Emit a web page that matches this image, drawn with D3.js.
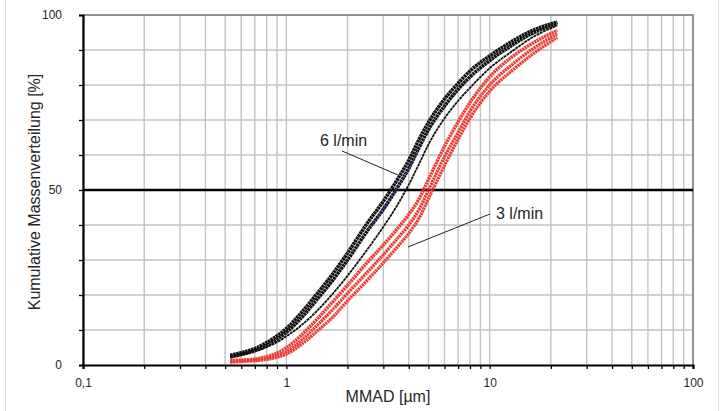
<!DOCTYPE html>
<html lang="de">

<head>
    <meta charset="utf-8">
    <title>Kumulative Massenverteilung</title>
    <script type="text/javascript" src="https://cdn.jsdelivr.net/npm/d3@7"></script>
    <style>
        body { margin: 0; background: #fff; }
        text { font-family: "Liberation Sans", Arial, sans-serif; fill: #262626; }
    </style>
</head>

<body>
    <div id="chart"></div>

    <script>
        // particle sizes (µm) shared by all curves
        const sizes = [0.53, 0.6, 0.7, 0.8, 0.9, 1.0, 1.2, 1.4, 1.7, 2.0, 2.5, 3.0, 3.5, 4.0, 4.5, 5.0, 6.0, 7.0, 8.0, 10, 13, 16, 21.5];

        // 6 l/min (black)
        const flow6a = [2.8, 3.5, 4.7, 6.4, 8.3, 10.4, 15.3, 20, 26.2, 32, 40.5, 46.8, 52.8, 58.5, 64.5, 69.3, 76, 80.5, 84, 88.3, 92.6, 95.4, 98];
        const flow6b = [2.3, 3.0, 4.1, 5.6, 7.3, 9.3, 13.8, 18.4, 24.4, 30, 38.3, 44.5, 50.5, 56.2, 62.2, 67.2, 74, 78.8, 82.3, 87, 91.5, 94.6, 97.5];
        const flow6c = [2.2, 2.9, 3.9, 5.1, 6.5, 8.2, 11.6, 15.2, 20.5, 25.5, 33, 39.5, 45.5, 51.5, 57.5, 63, 70.5, 75.5, 79.2, 84.8, 89.8, 93.4, 97];
        // thin blue trace hidden in the black band
        const blueSizes = [2.5, 3.0, 3.5, 4.0, 4.5];
        const flow6blue = [38.5, 44.5, 50.5, 56, 62];

        // 3 l/min (red)
        const flow3a = [1.3, 1.4, 1.7, 2.4, 3.4, 4.9, 8.8, 12.8, 18.2, 22.8, 29.3, 34.3, 38.8, 43, 47.5, 53, 62.5, 69.5, 75, 82.3, 88.2, 91.7, 95.6];
        const flow3b = [1.0, 1.2, 1.4, 1.9, 2.7, 3.8, 7.3, 11, 16, 20.5, 26.5, 31.5, 36, 40, 44.5, 50, 59.5, 66.5, 72.5, 80, 86, 90, 94.6];
        const flow3c = [0.8, 1.0, 1.2, 1.6, 2.2, 3.1, 6.1, 9.4, 13.8, 18.3, 24.2, 29.2, 33.6, 37.6, 42, 47.5, 57, 64.5, 70.5, 78.2, 84.3, 88.5, 93.6];

        const xTicks = [0.1, 1, 10, 100];
        const xTickLabels = ["0,1", "1", "10", "100"];
        const yTicks = [0, 50, 100];

        const width = 721;
        const height = 411;
        const plotL = 83, plotR = 693, plotT = 15, plotB = 365;

        const x = d3.scaleLog().domain([0.1, 100]).range([plotL, plotR]);
        const y = d3.scaleLinear().domain([0, 100]).range([plotB, plotT]);

        const svg = d3.select("#chart")
            .append("svg")
            .attr("width", width)
            .attr("height", height);

        // outer frame (sides only visible)
        svg.append("rect")
            .attr("x", 5.5).attr("y", -10)
            .attr("width", 713).attr("height", 440)
            .attr("fill", "none")
            .attr("stroke", "#d9d9d9");

        // grid
        const minorX = x.ticks();
        svg.append("g")
            .selectAll("line")
            .data(minorX)
            .enter()
            .append("line")
            .attr("x1", d => x(d)).attr("x2", d => x(d))
            .attr("y1", plotT).attr("y2", plotB)
            .attr("stroke", "#c3c3c6")
            .attr("stroke-width", 1.4);

        svg.append("g")
            .selectAll("line")
            .data(d3.range(10, 100, 10))
            .enter()
            .append("line")
            .attr("x1", plotL).attr("x2", plotR)
            .attr("y1", d => y(d)).attr("y2", d => y(d))
            .attr("stroke", "#c3c3c6")
            .attr("stroke-width", 1.4);

        // top/right border
        svg.append("path")
            .attr("d", `M${plotL},${plotT}H${plotR}V${plotB}`)
            .attr("fill", "none")
            .attr("stroke", "#929296")
            .attr("stroke-width", 2);

        // axes
        const xAxis = d3.axisBottom(x)
            .tickValues(minorX)
            .tickSize(4)
            .tickFormat(d => {
                const i = xTicks.findIndex(t => Math.abs(t - d) < 1e-9);
                return i >= 0 ? xTickLabels[i] : "";
            });
        const gx = svg.append("g")
            .attr("transform", `translate(0,${plotB})`)
            .call(xAxis);
        gx.select(".domain").attr("stroke", "#000").attr("stroke-width", 2.2);
        gx.selectAll(".tick line").attr("stroke", "#000").attr("stroke-width", 1.3);
        gx.selectAll(".tick text").attr("font-size", 12).attr("dy", "1.25em").attr("fill", "#262626");

        const yAxis = d3.axisLeft(y)
            .tickValues(d3.range(0, 101, 10))
            .tickSize(4)
            .tickFormat(d => yTicks.includes(d) ? d : "");
        const gy = svg.append("g")
            .attr("transform", `translate(${plotL},0)`)
            .call(yAxis);
        gy.select(".domain").attr("stroke", "#000").attr("stroke-width", 2.2);
        gy.selectAll(".tick line").attr("stroke", "#000").attr("stroke-width", 1.3);
        gy.selectAll(".tick text").attr("font-size", 12).attr("x", -21).attr("fill", "#262626");

        // 50 % reference line
        svg.append("line")
            .attr("x1", plotL).attr("x2", plotR)
            .attr("y1", y(50)).attr("y2", y(50))
            .attr("stroke", "#000")
            .attr("stroke-width", 2.6);

        // curves
        const line = d3.line()
            .x(d => x(d[0]))
            .y(d => y(d[1]))
            .curve(d3.curveMonotoneX);

        function drawCurve(xs, ys, color, w, dash) {
            svg.append("path")
                .datum(xs.map((v, i) => [v, ys[i]]))
                .attr("d", line)
                .attr("fill", "none")
                .attr("stroke", color)
                .attr("stroke-width", w)
                .attr("stroke-dasharray", dash)
                .attr("stroke-linecap", "butt");
        }

        const red = "#ee3a30";
        drawCurve(sizes, flow3c, red, 3.2, "2.2,0.6");
        drawCurve(sizes, flow3b, red, 3.2, "2.2,0.6");
        drawCurve(sizes, flow3a, red, 3.4, "2.2,0.6");

        drawCurve(sizes, flow6c, "#111", 1.8, "3,0.6");
        drawCurve(sizes, flow6b, "#111", 3.6, "2.6,0.5");
        drawCurve(sizes, flow6a, "#111", 3.6, "2.6,0.5");
        drawCurve(blueSizes, flow6blue, "#34348a", 1, null);

        // labels with leader lines
        svg.append("line")
            .attr("x1", 342).attr("y1", 151).attr("x2", 398).attr("y2", 175)
            .attr("stroke", "#222").attr("stroke-width", 1);
        svg.append("text")
            .attr("x", 320).attr("y", 146)
            .attr("font-size", 16)
            .text("6 l/min");

        svg.append("line")
            .attr("x1", 490).attr("y1", 214).attr("x2", 408).attr("y2", 247)
            .attr("stroke", "#222").attr("stroke-width", 1);
        svg.append("text")
            .attr("x", 496).attr("y", 219)
            .attr("font-size", 16)
            .text("3 l/min");

        // axis titles
        svg.append("text")
            .attr("x", (plotL + plotR) / 2).attr("y", 402)
            .attr("text-anchor", "middle")
            .attr("font-size", 16)
            .text("MMAD [µm]");

        svg.append("text")
            .attr("transform", `translate(40,${(plotT + plotB) / 2 + 2}) rotate(-90)`)
            .attr("text-anchor", "middle")
            .attr("font-size", 16)
            .text("Kumulative Massenverteilung [%]");
    </script>
</body>

</html>
